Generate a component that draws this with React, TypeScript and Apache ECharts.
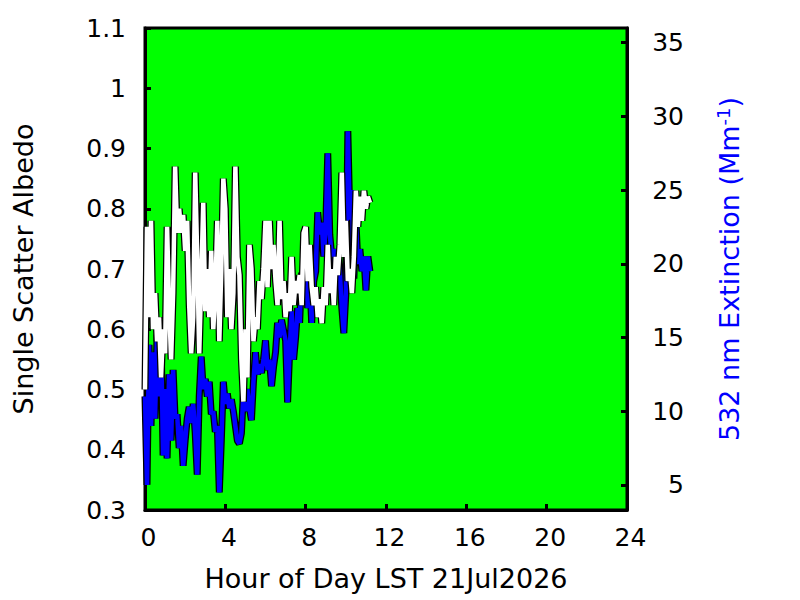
import React, { useEffect, useRef } from "react";
import * as echarts from "echarts";

const hours = [
  0.0, 0.1, 0.2, 0.3, 0.4, 0.5, 0.6, 0.7, 0.8, 0.9,
  1.0, 1.1, 1.2, 1.3, 1.4, 1.5, 1.6, 1.7, 1.8, 1.9,
  2.0, 2.1, 2.2, 2.3, 2.4, 2.5, 2.6, 2.7, 2.8, 2.9,
  3.0, 3.1, 3.2, 3.3, 3.4, 3.5, 3.6, 3.7, 3.8, 3.9,
  4.0, 4.1, 4.2, 4.3, 4.4, 4.5, 4.6, 4.7, 4.8, 4.9,
  5.0, 5.1, 5.2, 5.3, 5.4, 5.5, 5.6, 5.7, 5.8, 5.9,
  6.0, 6.1, 6.2, 6.3, 6.4, 6.5, 6.6, 6.7, 6.8, 6.9,
  7.0, 7.1, 7.2, 7.3, 7.4, 7.5, 7.6, 7.7, 7.8, 7.9,
  8.0, 8.1, 8.2, 8.3, 8.4, 8.5, 8.6, 8.7, 8.8, 8.9,
  9.0, 9.1, 9.2, 9.3, 9.4, 9.5, 9.6, 9.7, 9.8, 9.9,
  10.0, 10.1, 10.2, 10.3, 10.4, 10.5, 10.6, 10.7, 10.8, 10.9,
  11.0, 11.1, 11.2,
];

const albedo = [
  0.50, 0.77, 0.62, 0.78, 0.60, 0.66, 0.58, 0.62, 0.52, 0.60,
  0.56, 0.77, 0.64, 0.55, 0.66, 0.87, 0.76, 0.80, 0.76, 0.79,
  0.73, 0.78, 0.64, 0.56, 0.62, 0.86, 0.72, 0.56, 0.68, 0.81,
  0.63, 0.70, 0.62, 0.73, 0.60, 0.66, 0.78, 0.58, 0.70, 0.85,
  0.80, 0.62, 0.70, 0.60, 0.66, 0.87, 0.72, 0.69, 0.55, 0.48,
  0.60, 0.52, 0.74, 0.70, 0.58, 0.62, 0.60, 0.68, 0.65, 0.70,
  0.78, 0.67, 0.78, 0.70, 0.74, 0.68, 0.64, 0.78, 0.65, 0.68,
  0.62, 0.66, 0.63, 0.72, 0.64, 0.68, 0.66, 0.69, 0.64, 0.76,
  0.77, 0.68, 0.74, 0.67, 0.64, 0.67, 0.62, 0.65, 0.61, 0.67,
  0.64, 0.74, 0.66, 0.70, 0.64, 0.72, 0.69, 0.74, 0.86, 0.72,
  0.78, 0.68, 0.70, 0.66, 0.72, 0.83, 0.77, 0.82, 0.78, 0.83,
  0.80, 0.82, 0.81,
];

const extinction = [
  11.0, 5.0, 14.5, 9.0, 14.0, 9.5, 15.2, 11.0, 15.0, 7.0,
  11.5, 6.8, 12.5, 8.0, 12.8, 9.5, 9.8, 7.5, 9.0, 6.3,
  8.0, 9.5, 10.3, 9.2, 10.5, 8.5, 5.7, 11.0, 13.7, 11.5,
  12.2, 11.0, 12.0, 9.8, 10.0, 8.6, 9.0, 4.5, 8.0, 12.0,
  10.5, 11.2, 10.2, 10.8, 10.0, 9.0, 8.0, 7.8, 8.5, 11.2,
  10.0, 11.5, 10.2, 9.4, 12.0, 14.0, 12.5, 13.2, 12.6, 13.5,
  14.8, 12.8, 13.5, 11.7, 13.0, 14.0, 16.0, 15.0, 16.2, 15.5,
  14.8, 10.6, 14.0, 16.8, 13.5, 15.0, 17.0, 16.0, 19.4, 17.5,
  21.5, 17.0, 19.0, 16.0, 18.8, 19.5, 23.5, 22.0, 22.8, 20.5,
  22.5, 27.5, 22.0, 20.5, 21.0, 19.0, 21.0, 19.5, 17.0, 15.3,
  18.0, 29.0, 23.0, 25.0, 19.0, 23.0, 20.0, 21.0, 19.5, 20.5,
  18.2, 20.5, 19.5,
];

const xTicks = [0, 4, 8, 12, 16, 20, 24];
const leftTicks = [0.3, 0.4, 0.5, 0.6, 0.7, 0.8, 0.9, 1, 1.1];
const rightTicks = [5, 10, 15, 20, 25, 30, 35];

const FONT = "DejaVu Sans";

export default function App() {
  const ref = useRef<HTMLDivElement>(null);

  useEffect(() => {
    document.body.style.margin = "0";
    if (!ref.current) return;
    const chart = echarts.init(ref.current, undefined, { renderer: "svg" });

    const albedoData = hours.map((h, i) => [h, albedo[i]]);
    const extData = hours.map((h, i) => [h, extinction[i]]);

    const tickLabelStyle = { color: "#000", fontFamily: FONT, fontSize: 25 };

    chart.setOption({
      animation: false,
      backgroundColor: "#ffffff",
      grid: {
        left: 145,
        right: 173,
        top: 28,
        bottom: 90,
        show: true,
        backgroundColor: "#00ff00",
        borderColor: "#000",
        borderWidth: 3,
      },
      xAxis: {
        type: "value",
        min: 0,
        max: 24,
        interval: 4,
        name: "Hour of Day LST 21Jul2026",
        nameLocation: "middle",
        nameGap: 55,
        nameTextStyle: { color: "#000", fontFamily: FONT, fontSize: 27 },
        axisLine: { show: true, lineStyle: { color: "#000", width: 3 } },
        axisTick: { show: true, inside: true, length: 6, lineStyle: { color: "#000", width: 3 }, customValues: xTicks },
        axisLabel: { ...tickLabelStyle, margin: 15, padding: [0, 0, 0, 7], customValues: xTicks },
        splitLine: { show: false },
      },
      yAxis: [
        {
          type: "value",
          position: "left",
          min: 0.3,
          max: 1.1,
          interval: 0.1,
          name: "Single Scatter Albedo",
          nameLocation: "middle",
          nameRotate: 90,
          nameGap: 108,
          nameTextStyle: { color: "#000", fontFamily: FONT, fontSize: 27 },
          axisLine: { show: true, lineStyle: { color: "#000", width: 3 } },
          axisTick: { show: true, inside: true, length: 6, lineStyle: { color: "#000", width: 3 }, customValues: leftTicks },
          axisLabel: { ...tickLabelStyle, margin: 19, customValues: leftTicks },
          splitLine: { show: false },
        },
        {
          type: "value",
          position: "right",
          min: 3.3,
          max: 36.0,
          name: "532 nm Extinction (Mm{sup|-1})",
          nameLocation: "middle",
          nameRotate: 90,
          nameGap: 87,
          nameTextStyle: {
            color: "#0000ff",
            fontFamily: FONT,
            fontSize: 27,
            rich: {
              sup: { color: "#0000ff", fontFamily: FONT, fontSize: 18, verticalAlign: "top", lineHeight: 31 },
            },
          },
          axisLine: { show: true, lineStyle: { color: "#000", width: 3 } },
          axisTick: { show: true, inside: true, length: 6, lineStyle: { color: "#000", width: 3 }, customValues: rightTicks },
          axisLabel: { ...tickLabelStyle, margin: 57, align: "right", customValues: rightTicks },
          splitLine: { show: false },
        },
      ],
      series: [
        {
          type: "line",
          data: extData,
          yAxisIndex: 1,
          showSymbol: false,
          symbol: "none",
          lineStyle: { color: "#000", width: 7 },
          z: 2,
        },
        {
          type: "line",
          data: extData,
          yAxisIndex: 1,
          showSymbol: false,
          symbol: "none",
          lineStyle: { color: "#0000ff", width: 4.5 },
          z: 3,
        },
        {
          type: "line",
          data: albedoData,
          yAxisIndex: 0,
          showSymbol: false,
          symbol: "none",
          lineStyle: { color: "#000", width: 7 },
          z: 4,
        },
        {
          type: "line",
          data: albedoData,
          yAxisIndex: 0,
          showSymbol: false,
          symbol: "none",
          lineStyle: { color: "#ffffff", width: 4.5 },
          z: 5,
        },
      ],
    });

    return () => chart.dispose();
  }, []);

  return <div ref={ref} style={{ width: 800, height: 600 }} />;
}
